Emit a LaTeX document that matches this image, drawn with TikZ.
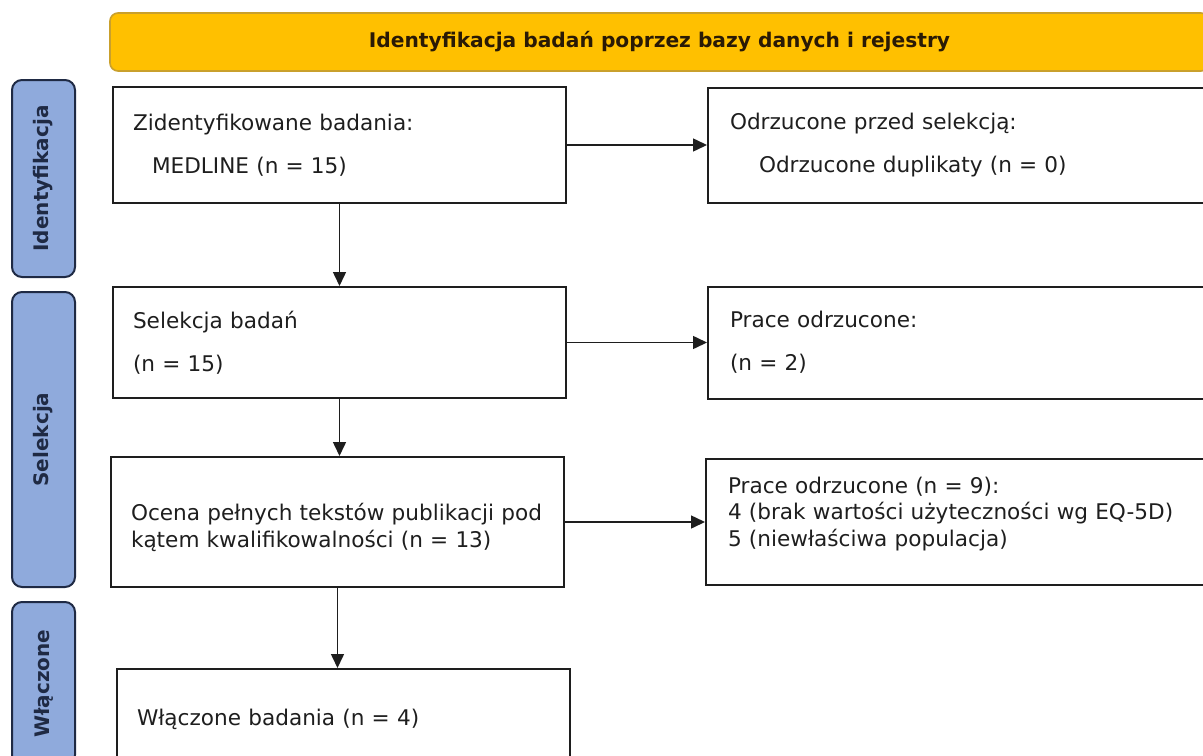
\documentclass[tikz,border=0pt]{standalone}
\usepackage{fontspec}
\setmainfont{DejaVu Sans}
\usetikzlibrary{positioning,arrows.meta}

\definecolor{headfill}{HTML}{FFC000}
\definecolor{headdraw}{HTML}{C9A02C}
\definecolor{headtext}{HTML}{2A1A05}
\definecolor{sidefill}{HTML}{8FAADC}
\definecolor{sidedraw}{HTML}{1F2A44}
\definecolor{ink}{HTML}{1E1E1E}

\begin{document}
\begin{tikzpicture}[x=0.5pt,y=-0.5pt,->,>={Triangle[length=7pt,width=6.5pt]},
                    line width=0.75pt,draw=ink,text=ink,
                    box/.style={draw=ink,line width=1pt,rectangle,align=left,inner xsep=10pt,
                                text width=206.5pt,font=\fontsize{10.8}{13.3}\selectfont},
                    rbox/.style={box,inner xsep=11pt,text width=230pt},
                    side/.style={draw=sidedraw,fill=sidefill,rounded corners=5pt,line width=1pt,
                                 minimum height=31.5pt,rotate=90,text=sidedraw,
                                 font=\bfseries\fontsize{10}{12}\selectfont}]

  \clip (0,0) rectangle (1203,755);

  \node[draw=headdraw,fill=headfill,rounded corners=4pt,line width=0.8pt,text=headtext,
        minimum width=549.5pt,minimum height=29pt,font=\bfseries\fontsize{10.1}{12}\selectfont]
        (head) at (659.5,42) {Identyfikacja badań poprzez bazy danych i rejestry};

  \node[side,minimum width=98.5pt]  (sident) at (43.5,178.5) {Identyfikacja};
  \node[side,minimum width=147.5pt] (ssel)   at (43.5,439.5) {Selekcja};
  \node[side,minimum width=81.5pt]  (sincl)  at (43.5,683.5) {Włączone};

  \node[box,minimum height=58pt] (found) at (339.5,145)
        {Zidentyfikowane badania:\\[8.2pt]\hspace*{9.5pt}MEDLINE (n = 15)};
  \node[box,minimum height=55.5pt] (select) at (339.5,342.5)
        {Selekcja badań\\[8.2pt](n = 15)};
  \node[box,minimum height=65pt] (fulltext) at (337.5,522)
        {\rule{0pt}{14pt}Ocena pełnych tekstów publikacji pod\\kątem kwalifikowalności (n = 13)};
  \node[box,minimum height=50pt] (incl) at (343.5,719)
        {Włączone badania (n = 4)};

  \node[rbox,minimum height=57.5pt] (dupl) [right=70pt of found]
        {Odrzucone przed selekcją:\\[8.2pt]\hspace*{14.5pt}Odrzucone duplikaty (n = 0)};
  \node[rbox,minimum height=56pt] (rej) [right=70pt of select]
        {Prace odrzucone:\\[8.2pt](n = 2)};
  \node[rbox,minimum height=63pt] (rejfull) [right=70pt of fulltext]
        {Prace odrzucone (n = 9):\\4 (brak wartości użyteczności wg EQ-5D)\\5 (niewłaściwa populacja)\rule[-10.5pt]{0pt}{0pt}};

  \draw (found) -- (select);
  \draw (select.south) -- (select.south |- fulltext.north);
  \draw (fulltext.south) -- (fulltext.south |- incl.north);
  \draw (found) -- (dupl);
  \draw (select) -- (rej);
  \draw (fulltext) -- (rejfull);
\end{tikzpicture}
\end{document}
